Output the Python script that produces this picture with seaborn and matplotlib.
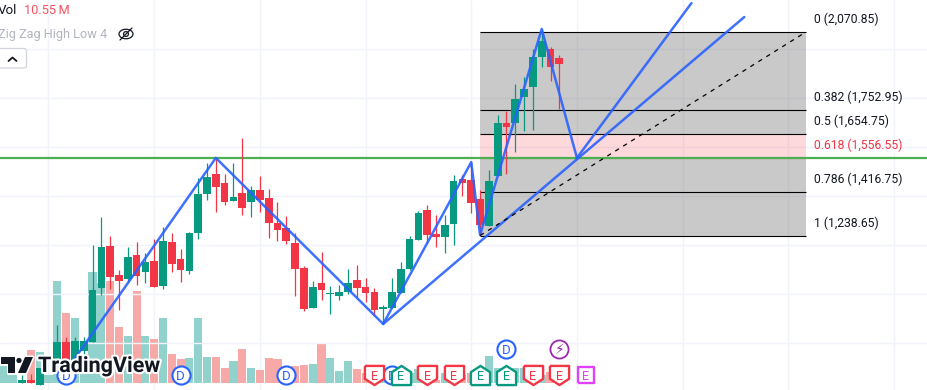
import numpy as np
import pandas as pd
import matplotlib
matplotlib.use('Agg')
import matplotlib.pyplot as plt
import matplotlib.patheffects as pe
from matplotlib.patches import Ellipse, FancyBboxPatch, Polygon, Circle
import seaborn as sns

nan = float('nan')

# Bars are numbered from the tall green volume bar at the left of the chart
bar_index = list(range(-6, 58))
opens = [nan, nan, 636, 648, 627, nan,
         730, 803, 730, 766, 803, 1024, 1196, 1077, 1061, 1159, 1090, 1134, 1032, 1212, 1143, 1094,
         1249, 1408, 1490, 1453, 1380, 1413, 1376, 1425, 1392, 1290, 1269, 1208, 1106, 942, 1044, 1000,
         991, 1008, 1057, 1028, 1008, 938, 942, 1004, 1102, 1220, 1343, 1245, 1233, 1286, 1470, 1466,
         1388, 1278, 1482, 1699, 1699, 1805, 1846, 1969, 2001, 1965]
highs = [nan, nan, 668, 672, 697, nan,
         873, 824, 824, 824, 1200, 1314, 1237, 1098, 1192, 1212, 1167, 1224, 1273, 1249, 1184, 1253,
         1474, 1535, 1556, 1490, 1535, 1637, 1441, 1482, 1429, 1376, 1318, 1249, 1114, 1053, 1171, 1032,
         1036, 1102, 1118, 1065, 1024, 955, 1065, 1130, 1237, 1339, 1363, 1323, 1323, 1486, 1486, 1539,
         1425, 1507, 1731, 1748, 1858, 1887, 2001, 2083, 2010, 1977]
lows = [nan, nan, 636, 636, 627, nan,
        709, 697, 681, 750, 803, 995, 1020, 934, 1049, 1036, 1044, 1028, 1020, 1090, 1049, 1081,
        1224, 1384, 1335, 1363, 1380, 1323, 1314, 1335, 1228, 1216, 1204, 991, 930, 942, 975, 918,
        975, 1000, 987, 967, 910, 877, 942, 1004, 1098, 1220, 1208, 1192, 1167, 1200, 1400, 1331,
        1241, 1278, 1482, 1490, 1580, 1666, 1670, 1928, 1870, 1756]
closes = [nan, nan, 648, 636, 697, nan,
          803, 730, 807, 807, 1016, 1192, 1069, 1053, 1151, 1073, 1130, 1028, 1216, 1122, 1098, 1249,
          1408, 1478, 1437, 1376, 1396, 1351, 1425, 1384, 1290, 1261, 1216, 1102, 938, 1028, 1016, 1004,
          1008, 1044, 1024, 1004, 934, 946, 1008, 1102, 1224, 1331, 1241, 1233, 1282, 1462, 1453, 1372,
          1282, 1462, 1699, 1682, 1797, 1838, 1969, 2034, 1928, 1940]
# millions
volumes = [36, 17, 6, 70, 65, 17,
           215, 148, 137, 32, 234, 211, 215, 118, 99, 194, 99, 93, 137, 61, 51, 53,
           137, 55, 55, 32, 46, 72, 32, 27, 53, 51, 27, 36, 38, 40, 84, 53,
           25, 46, 30, 21, 30, 17, 25, 25, 21, 30, 21, 6, 21, 11, 17, 21,
           25, 57, 32, 17, 32, 32, 27, 17, 23, 10.55]

# Zig zag turning points
zigzag_bars = [1, 18, 37, 47, 48, 55, 59]
zigzag_prices = [685, 1556, 877, 1539, 1241, 2083, 1556]

# Drawn trend lines
fan_a_bars, fan_a_prices = [37, 78], [877, 2132]
fan_b_bars, fan_b_prices = [59, 72], [1556, 2189]

fib_ratios = ['0', '0.382', '0.5', '0.618', '0.786', '1']
fib_prices = [2070.85, 1752.95, 1654.75, 1556.55, 1416.75, 1238.65]
fib_start, fib_end = 48, 85
support_price = 1556

earnings_bars = [36, 39, 42, 45, 48, 51, 54, 57, 60]
earnings_kinds = ['miss', 'beat', 'miss', 'miss', 'beat', 'beat', 'miss', 'miss', 'next']
dividend_bars = [1, 14, 26, 38, 51]
split_bars = [57]

GREEN, RED = '#089981', '#f23645'
VOL_GREEN, VOL_RED = '#92d2cc', '#f7a9a7'
BLUE = '#2962ff'
GRID = '#f0f3fa'

sns.set_theme(style='white')
plt.rcParams['font.family'] = ['Roboto', 'DejaVu Sans']

fig = plt.figure(figsize=(9.28, 3.9), dpi=100)
vol_ax = fig.add_axes([0, 0, 1, 1])
ax = vol_ax.twinx()
ax.set_position([0, 0, 1, 1])
vol_ax.set_zorder(1)
ax.set_zorder(2)
ax.patch.set_visible(False)

df = pd.DataFrame({'bar': bar_index, 'open': opens, 'high': highs, 'low': lows,
                   'close': closes, 'volume': volumes})
df['side'] = np.where(df['close'] < df['open'], 'down', 'up')

sns.barplot(data=df, x='bar', y='volume', hue='side', native_scale=True, dodge=False,
            palette={'up': VOL_GREEN, 'down': VOL_RED}, width=0.92, legend=False,
            saturation=1, linewidth=0, ax=vol_ax)
# Keep volume bars as wide as the candles
for patch in vol_ax.patches:
    middle = patch.get_x() + patch.get_width() / 2
    patch.set_width(0.92)
    patch.set_x(middle - 0.46)

# Fib box
ax.fill_between([fib_start, fib_end], fib_prices[2], fib_prices[0], color='#787878', alpha=0.4, lw=0, zorder=1)
ax.fill_between([fib_start, fib_end], fib_prices[3], fib_prices[2], color='#f7525f', alpha=0.22, lw=0, zorder=1)
ax.fill_between([fib_start, fib_end], fib_prices[5], fib_prices[3], color='#787878', alpha=0.4, lw=0, zorder=1)
for ratio, price in zip(fib_ratios, fib_prices):
    ax.hlines(price, fib_start, fib_end, color=RED if ratio == '0.618' else 'black', lw=0.8, zorder=2)
    ax.annotate(f'{ratio} ({price:,.2f})', (fib_end, price), xytext=(8.5, 12.5),
                textcoords='offset pixels', fontsize=8.7, va='center', ha='left',
                color=RED if ratio == '0.618' else '#131722')

ax.axhline(support_price, color='#4caf50', lw=1.6, zorder=3)

# Candles
candles = df.dropna()
up = candles['close'] >= candles['open']
colors = np.where(up, GREEN, RED)
ax.vlines(candles['bar'], candles['low'], candles['high'], colors=colors, lw=0.9, zorder=4)
ax.bar(candles['bar'], (candles['close'] - candles['open']).abs(),
       bottom=candles[['open', 'close']].min(axis=1), width=0.87, color=colors, lw=0, zorder=5)

# Zig zag and lines
sns.lineplot(x=zigzag_bars, y=zigzag_prices, sort=False, estimator=None, color=BLUE, lw=1.8, alpha=0.9, ax=ax, zorder=6)
for xs, ys in [(fan_a_bars, fan_a_prices), (fan_b_bars, fan_b_prices)]:
    sns.lineplot(x=xs, y=ys, sort=False, estimator=None, color=BLUE, lw=1.8, alpha=0.9, ax=ax, zorder=6)
sns.lineplot(x=[fib_start, fib_end], y=[fib_prices[5], fib_prices[0]], sort=False, estimator=None,
             color='black', lw=0.9, ax=ax, zorder=6, linestyle=(0, (3.5, 4)))

# Grid, 12 bars and 200 points apart
vol_ax.set_xticks(np.arange(-1, 98, 12))
vol_ax.grid(True, axis='x', color=GRID, lw=1)
vol_ax.set_axisbelow(True)
ax.set_yticks(np.arange(800, 2200, 200))
ax.grid(True, axis='y', color=GRID, lw=1, zorder=0)
ax.set_axisbelow(True)
for side in ax.spines:
    ax.spines[side].set_visible(False)
    vol_ax.spines[side].set_visible(False)
ax.tick_params(left=False, right=False, bottom=False, labelleft=False, labelright=False, labelbottom=False)
vol_ax.tick_params(left=False, right=False, bottom=False, labelleft=False, labelbottom=False)
vol_ax.set_xlabel('')
vol_ax.set_ylabel('')
ax.set_ylabel('')

vol_ax.set_xlim(-6.506, 98.86)
ax.set_xlim(-6.506, 98.86)
ax.set_ylim(607, 2201.7)
vol_ax.set_ylim(-14.77, 808)

# Event badges sit on the time axis
trans = ax.get_xaxis_transform()
shield_down = [(-1, 1), (1, 1), (1, -0.35), (0, -1), (-1, -0.35), (-1, 1)]
shield_up = [(-1, -1), (1, -1), (1, 0.35), (0, 1), (-1, 0.35), (-1, -1)]
square = [(-1, -1), (1, -1), (1, 1), (-1, 1), (-1, -1)]
earn_style = {'miss': (shield_down, RED), 'beat': (shield_up, GREEN), 'next': (square, '#e040fb')}

for bar in dividend_bars:
    row = 0.0385 if bar != 51 else 0.105
    ax.scatter(bar, row, s=170, marker='o', fc='white', ec=BLUE, lw=1.5, transform=trans, zorder=7, clip_on=False)
    ax.text(bar, row, 'D', color=BLUE, fontsize=9.5, ha='center', va='center_baseline', transform=trans, zorder=8)
for bar in split_bars:
    ax.scatter(bar, 0.105, s=170, marker='o', fc='white', ec='#9c27b0', lw=1.3, transform=trans, zorder=7)
    ax.text(bar, 0.105, '\u26a1', color='#9c27b0', fontsize=10, ha='center', va='center_baseline', transform=trans, zorder=8,
            family=['DejaVu Sans'])
for bar, kind in zip(earnings_bars, earnings_kinds):
    verts, col = earn_style[kind]
    size = 140 if kind == 'next' else 190
    ax.scatter(bar, 0.0385, s=size, marker=verts, fc='white', ec=col, lw=1.7, transform=trans, zorder=9)
    ax.text(bar, 0.0385, 'E', color=col, fontsize=9, ha='center', va='center_baseline', transform=trans, zorder=10)

# Overlay for the chart furniture, in screen pixels
ui = fig.add_axes([0, 0, 1, 1], zorder=5)
ui.set_xlim(0, 928)
ui.set_ylim(390, 0)
ui.axis('off')

ui.text(-2, 10.5, 'Vol', fontsize=9.6, color='#131722', va='center')
ui.text(24, 10.5, '10.55\u2009M', fontsize=9.2, color='#f7525f', va='center')
ui.text(-2, 34.5, 'Zig Zag High Low 4', fontsize=9.2, color='#b2b5be', va='center')
ui.add_patch(Ellipse((126, 34), 14, 9.5, fc='none', ec='#131722', lw=0.9))
ui.add_patch(Circle((126, 34), 2.4, fc='none', ec='#131722', lw=0.9))
ui.plot([120, 132], [40, 28], color='#131722', lw=0.9)
ui.add_patch(FancyBboxPatch((-6, 48.5), 32.5, 19.5, boxstyle='round,pad=0,rounding_size=2.5',
                            fc='white', ec='#d1d4dc', lw=0.9))
ui.plot([8.5, 12.5, 16.5], [61, 57.5, 61], color='#131722', lw=1.3)

logo_col = '#131722'
for poly in ([(1, 357), (15, 357), (15, 373), (8, 373), (8, 364), (1, 364)],
             [(25, 357), (33, 357), (26, 373), (18, 373)]):
    ui.add_patch(Polygon(poly, closed=True, fc=logo_col, ec='white', lw=2.2, joinstyle='round', zorder=3))
    ui.add_patch(Polygon(poly, closed=True, fc=logo_col, ec='none', zorder=4))
ui.add_patch(Circle((19, 360.5), 3.2, fc=logo_col, ec='white', lw=0.8, zorder=4))
ui.text(38, 366, 'TradingView', fontsize=15.5, fontweight='bold', color=logo_col, va='center', ha='left',
        path_effects=[pe.withStroke(linewidth=3, foreground='white')], zorder=5)

plt.savefig('out.png', dpi=100)
